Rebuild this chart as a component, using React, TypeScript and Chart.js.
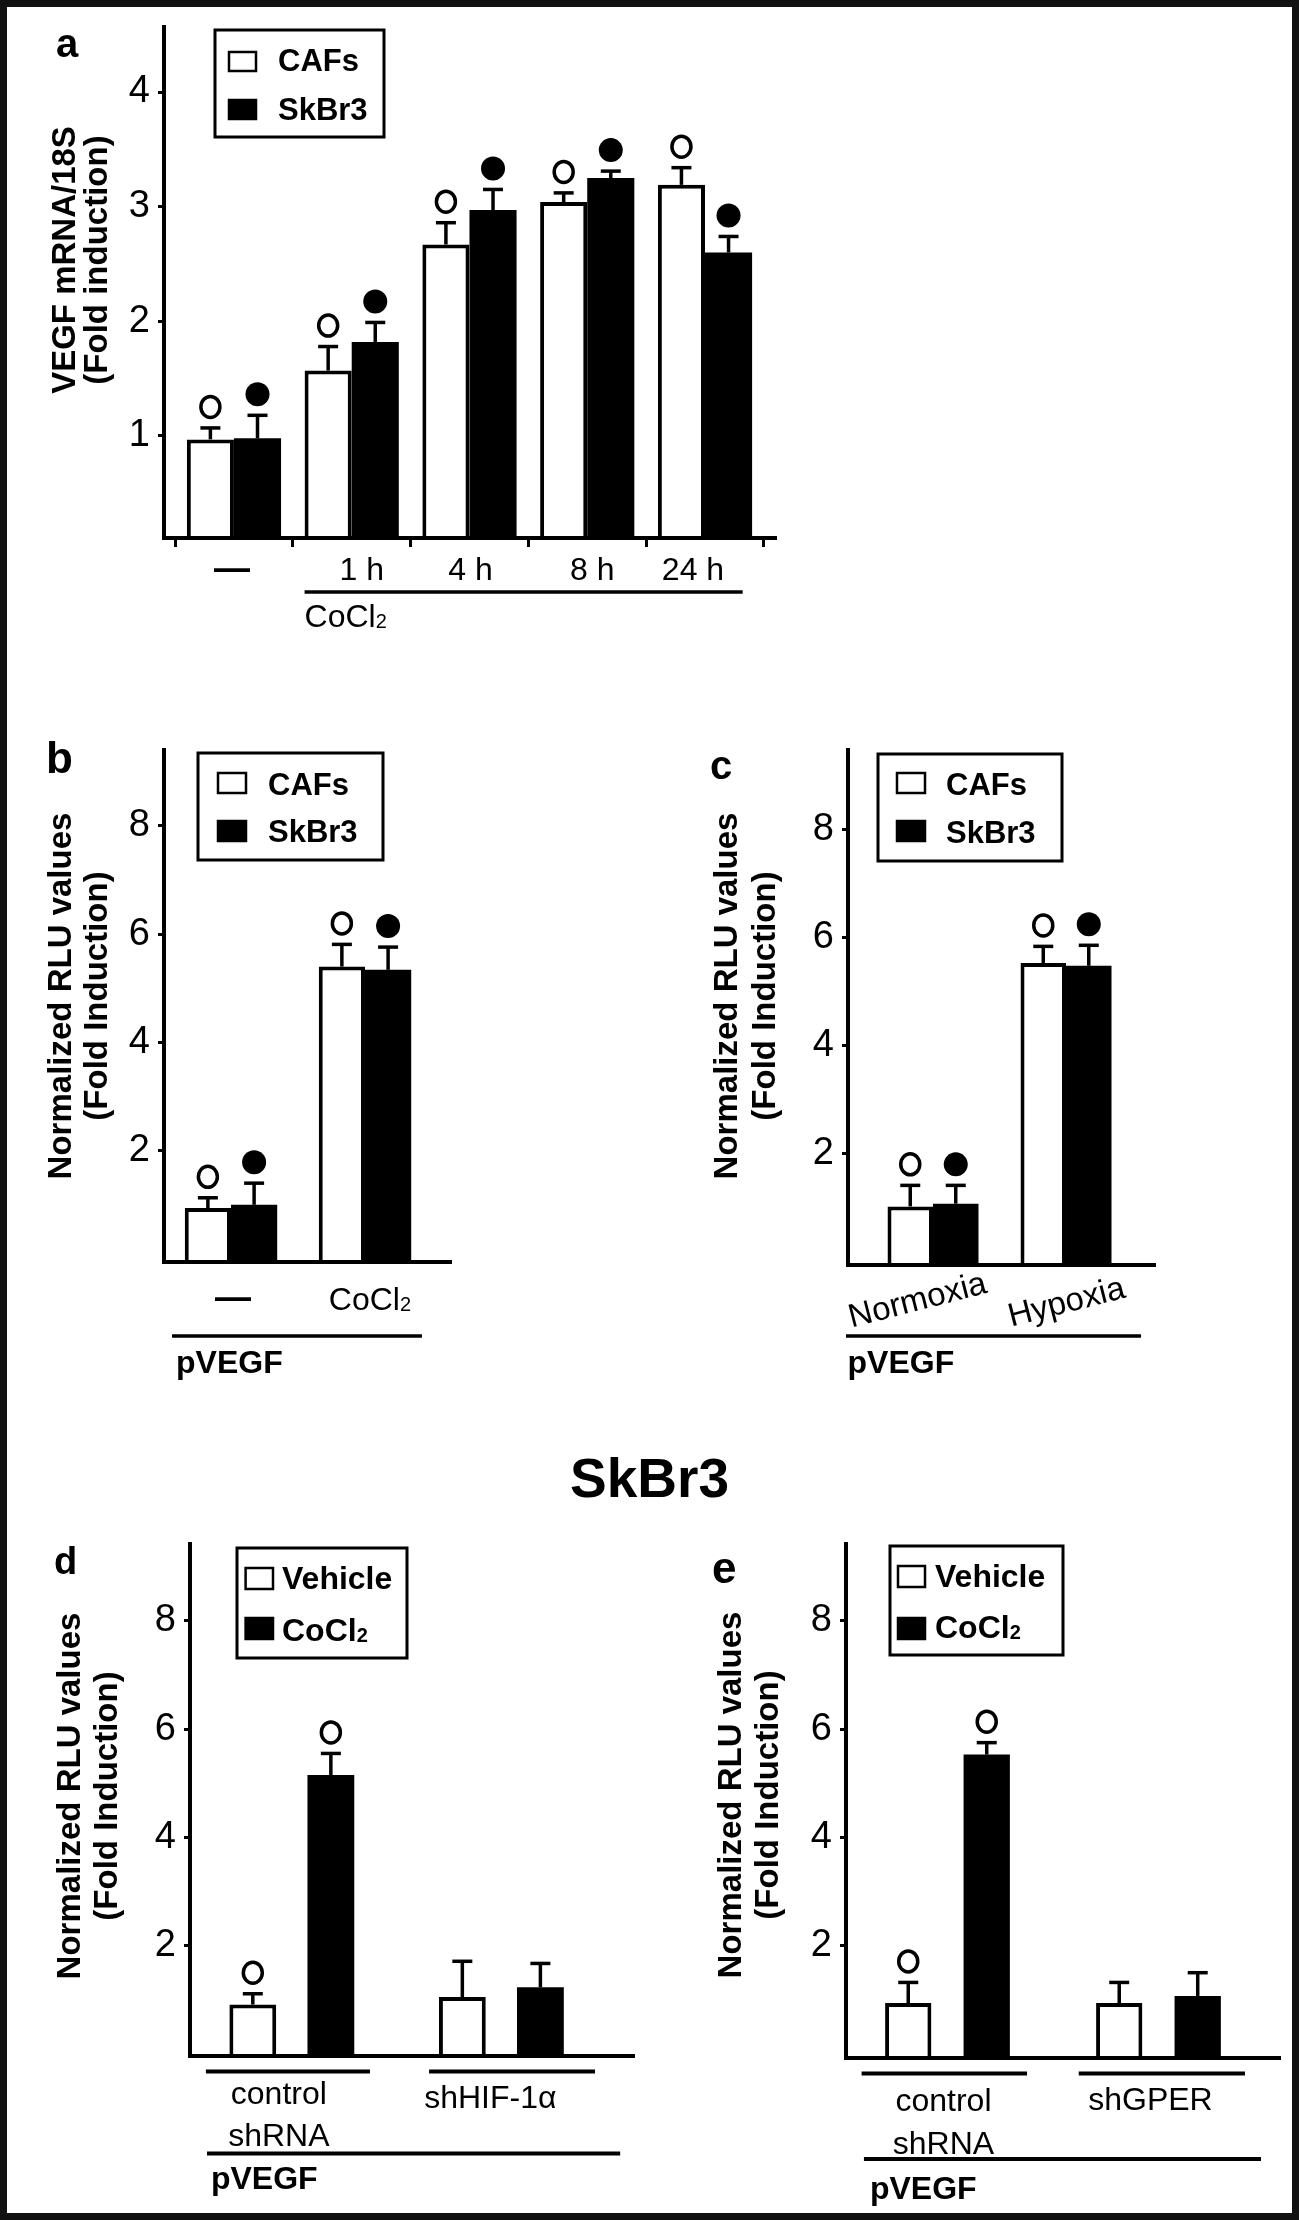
import React, { useEffect, useRef } from 'react';
import { Chart, registerables } from 'chart.js';

Chart.register(...registerables);

const FAMILY = '"Liberation Sans", Arial, Helvetica, sans-serif';
const WHITE = '#ffffff';
const BLACK = '#000000';

// ---------------- data ----------------
// panel a
const aCategories = ['—', '1 h', '4 h', '8 h', '24 h'];
const aGroupLabel = 'CoCl₂';
const cellLines = ['CAFs', 'SkBr3'];
const aCAFs = [0.97, 1.57, 2.67, 3.04, 3.19];
const aCAFsErr = [0.10, 0.21, 0.19, 0.08, 0.15];
const aSkBr3 = [0.98, 1.82, 2.97, 3.25, 2.60];
const aSkBr3Err = [0.20, 0.17, 0.18, 0.06, 0.14];
const aCAFsMarks = ['o', 'o', 'o', 'o', 'o'];
const aSkBr3Marks = ['●', '●', '●', '●', '●'];
const aYTicks = [1, 2, 3, 4];
const aYTitle = ['VEGF mRNA/18S', '(Fold induction)'];

// panel b
const bCategories = ['—', 'CoCl₂'];
const bCAFs = [0.94, 5.40];
const bCAFsErr = [0.19, 0.41];
const bSkBr3 = [1.00, 5.34];
const bSkBr3Err = [0.40, 0.42];
const bCAFsMarks = ['o', 'o'];
const bSkBr3Marks = ['●', '●'];

// panel c
const cCategories = ['Normoxia', 'Hypoxia'];
const cCAFs = [1.02, 5.53];
const cCAFsErr = [0.39, 0.31];
const cSkBr3 = [1.07, 5.48];
const cSkBr3Err = [0.34, 0.38];
const cCAFsMarks = ['o', 'o'];
const cSkBr3Marks = ['●', '●'];

const rluYTicks = [2, 4, 6, 8];
const rluYTitle = ['Normalized RLU values', '(Fold Induction)'];
const plasmidLabel = 'pVEGF';
const lowerTitle = 'SkBr3';
const treatments = ['Vehicle', 'CoCl₂'];

// panel d
const dCategories = [['control', 'shRNA'], ['shHIF-1α']];
const dVehicle = [0.91, 1.05];
const dVehicleErr = [0.20, 0.66];
const dCoCl2 = [5.15, 1.23];
const dCoCl2Err = [0.40, 0.44];
const dVehicleMarks = ['o', ''];
const dCoCl2Marks = ['o', ''];

// panel e
const eCategories = [['control', 'shRNA'], ['shGPER']];
const eVehicle = [0.94, 0.94];
const eVehicleErr = [0.38, 0.38];
const eCoCl2 = [5.53, 1.07];
const eCoCl2Err = [0.22, 0.43];
const eVehicleMarks = ['o', ''];
const eCoCl2Marks = ['o', ''];

// ---------------- helpers ----------------
type TOpt = { size: number; bold?: boolean; align?: 'left' | 'center' | 'right'; rot?: number };

function splitSub(text: string) {
  const out: { t: string; sub: boolean }[] = [];
  let cur = '';
  for (const ch of text) {
    if (ch === '₂') {
      if (cur) out.push({ t: cur, sub: false });
      out.push({ t: '2', sub: true });
      cur = '';
    } else cur += ch;
  }
  if (cur) out.push({ t: cur, sub: false });
  return out;
}

function drawText(ctx: CanvasRenderingContext2D, text: string, x: number, y: number, o: TOpt) {
  const weight = o.bold ? 'bold ' : '';
  const parts = splitSub(text);
  const fontFor = (sub: boolean) => `${weight}${sub ? Math.round(o.size * 0.62) : o.size}px ${FAMILY}`;
  ctx.save();
  ctx.translate(x, y);
  if (o.rot) ctx.rotate(o.rot);
  ctx.textBaseline = 'alphabetic';
  ctx.textAlign = 'left';
  ctx.fillStyle = BLACK;
  let total = 0;
  const widths = parts.map((p) => {
    ctx.font = fontFor(p.sub);
    const w = ctx.measureText(p.t).width;
    total += w;
    return w;
  });
  let cx = o.align === 'center' ? -total / 2 : o.align === 'right' ? -total : 0;
  parts.forEach((p, i) => {
    ctx.font = fontFor(p.sub);
    ctx.fillText(p.t, cx, p.sub ? 1 : 0);
    cx += widths[i];
  });
  ctx.restore();
}

type Series = { label: string; values: number[]; errs: number[]; marks: string[]; fill: string };
type Bracket = { from: number; to: number; y: number; lw: number; label?: string; ly?: number; ldx?: number; size?: number };
type Spec = {
  left: number; top: number; w: number; h: number;
  area: { l: number; t: number; r: number; b: number };
  xMin: number; xMax: number; yMin: number; yMax: number; yTicks: number[];
  cp: number; bp: number; xTickMarks: boolean;
  series: Series[];
  letter: { text: string; x: number; y: number; size: number };
  yTitle: { lines: string[]; xs: number[]; cy: number; size: number };
  legend: { x: number; y: number; w: number; h: number; swX: number; swW: number; swH: number; swY: number[]; textX: number; base: number[]; size: number };
  cats: { labels: string[][]; base: number[][]; dx: number[]; size: number; rot?: number };
  brackets: Bracket[];
};

function overlay(spec: Spec) {
  return {
    id: 'overlay',
    afterDatasetsDraw(chart: any) {
      const ctx: CanvasRenderingContext2D = chart.ctx;
      const ys = chart.scales.y;
      ctx.save();
      spec.series.forEach((s, di) => {
        const meta = chart.getDatasetMeta(di);
        meta.data.forEach((el: any, i: number) => {
          const x = el.x;
          const top = ys.getPixelForValue(s.values[i]);
          const et = ys.getPixelForValue(s.values[i] + s.errs[i]);
          ctx.strokeStyle = BLACK;
          ctx.lineWidth = 3.5;
          ctx.beginPath();
          ctx.moveTo(x, top);
          ctx.lineTo(x, et);
          ctx.stroke();
          ctx.beginPath();
          ctx.moveTo(x - 10, et);
          ctx.lineTo(x + 10, et);
          ctx.stroke();
          const m = s.marks[i];
          if (m) {
            const cy = et - 21;
            ctx.beginPath();
            if (m === '●') {
              ctx.arc(x, cy, 12, 0, Math.PI * 2);
              ctx.fillStyle = BLACK;
              ctx.fill();
            } else {
              ctx.ellipse(x, cy, 9.5, 10.5, 0, 0, Math.PI * 2);
              ctx.lineWidth = 3.5;
              ctx.stroke();
            }
          }
        });
      });
      ctx.restore();
    },
    afterDraw(chart: any) {
      const ctx: CanvasRenderingContext2D = chart.ctx;
      const xs = chart.scales.x;
      ctx.save();
      drawText(ctx, spec.letter.text, spec.letter.x, spec.letter.y, { size: spec.letter.size, bold: true });
      spec.yTitle.lines.forEach((t, i) => {
        drawText(ctx, t, spec.yTitle.xs[i], spec.yTitle.cy, { size: spec.yTitle.size, bold: true, align: 'center', rot: -Math.PI / 2 });
      });
      const L = spec.legend;
      ctx.strokeStyle = BLACK;
      ctx.lineWidth = 3;
      ctx.strokeRect(L.x, L.y, L.w, L.h);
      spec.series.forEach((s, i) => {
        ctx.fillStyle = s.fill;
        ctx.fillRect(L.swX, L.swY[i], L.swW, L.swH);
        ctx.lineWidth = 2.5;
        ctx.strokeStyle = BLACK;
        ctx.strokeRect(L.swX, L.swY[i], L.swW, L.swH);
        drawText(ctx, s.label, L.textX, L.base[i], { size: L.size, bold: true });
      });
      const C = spec.cats;
      C.labels.forEach((lines, i) => {
        const px = xs.getPixelForValue(i) + C.dx[i];
        lines.forEach((t, j) => {
          const isDash = t === '—';
          drawText(ctx, t, px, C.base[i][j], {
            size: isDash ? C.size + 4 : C.size,
            bold: isDash,
            align: 'center',
            rot: C.rot || 0,
          });
        });
      });
      spec.brackets.forEach((b) => {
        const x1 = xs.getPixelForValue(b.from);
        const x2 = xs.getPixelForValue(b.to);
        ctx.strokeStyle = BLACK;
        ctx.lineWidth = b.lw;
        ctx.beginPath();
        ctx.moveTo(x1, b.y);
        ctx.lineTo(x2, b.y);
        ctx.stroke();
        if (b.label) {
          const bold = b.label === plasmidLabel;
          drawText(ctx, b.label, x1 + (b.ldx || 0), b.ly || 0, { size: b.size || 32, bold });
        }
      });
      ctx.restore();
    },
  };
}

function buildConfig(spec: Spec) {
  const { area, w, h } = spec;
  const datasets = spec.series.map((s) => ({
    label: s.label,
    data: s.values.map((v, i) => ({ x: i, y: v })),
    backgroundColor: s.fill,
    borderColor: BLACK,
    borderWidth: s.fill === WHITE ? 4 : 0,
    borderSkipped: 'start',
    base: spec.yMin,
    categoryPercentage: spec.cp,
    barPercentage: spec.bp,
  }));
  const nCat = spec.series[0].values.length;
  const zeroPad = (s: any) => {
    s.paddingTop = 0;
    s.paddingBottom = 0;
    s.paddingLeft = 0;
    s.paddingRight = 0;
  };
  return {
    type: 'bar',
    data: { datasets },
    options: {
      responsive: false,
      animation: false,
      events: [],
      layout: { padding: { left: 0, top: area.t, right: w - area.r, bottom: h - area.b } },
      plugins: { legend: { display: false }, tooltip: { enabled: false }, title: { display: false } },
      scales: {
        x: {
          type: 'linear',
          min: spec.xMin,
          max: spec.xMax,
          offset: false,
          afterBuildTicks: (s: any) => {
            s.ticks = Array.from({ length: nCat }, (_, i) => ({ value: i }));
          },
          afterFit: (s: any) => {
            s.height = 0;
            zeroPad(s);
          },
          ticks: { display: false },
          grid: {
            display: spec.xTickMarks,
            drawOnChartArea: false,
            drawTicks: true,
            tickLength: 9,
            tickWidth: 3,
            tickColor: BLACK,
          },
          border: { display: true, color: BLACK, width: 4, z: 1 },
        },
        y: {
          type: 'linear',
          min: spec.yMin,
          max: spec.yMax,
          afterBuildTicks: (s: any) => {
            s.ticks = spec.yTicks.map((v) => ({ value: v }));
          },
          afterFit: (s: any) => {
            s.width = area.l;
            zeroPad(s);
          },
          ticks: {
            color: BLACK,
            padding: 8,
            font: { family: FAMILY, size: 38 },
            callback: (v: any) => String(v),
          },
          grid: {
            display: true,
            drawOnChartArea: false,
            drawTicks: true,
            tickLength: 6,
            tickWidth: 3,
            tickColor: BLACK,
          },
          border: { display: true, color: BLACK, width: 4, z: 1 },
        },
      },
    },
    plugins: [overlay(spec)],
  };
}

// ---------------- panel layouts ----------------
const panelA: Spec = {
  left: 0, top: 0, w: 820, h: 670,
  area: { l: 164, t: 27, r: 776, b: 538 },
  xMin: -0.594, xMax: 4.603, yMin: 0.11, yMax: 4.567, yTicks: aYTicks,
  cp: 0.8, bp: 1, xTickMarks: true,
  series: [
    { label: cellLines[0], values: aCAFs, errs: aCAFsErr, marks: aCAFsMarks, fill: WHITE },
    { label: cellLines[1], values: aSkBr3, errs: aSkBr3Err, marks: aSkBr3Marks, fill: BLACK },
  ],
  letter: { text: 'a', x: 56, y: 57, size: 40 },
  yTitle: { lines: aYTitle, xs: [75, 107], cy: 260, size: 33 },
  legend: { x: 215, y: 30, w: 169, h: 107, swX: 229, swW: 27, swH: 19, swY: [52, 100], textX: 278, base: [71, 120], size: 31 },
  cats: { labels: aCategories.map((c) => [c]), base: aCategories.map(() => [580]), dx: [-2, 10, 1, 5, -12], size: 32 },
  brackets: [{ from: 0.6, to: 4.32, y: 592, lw: 3.5, label: aGroupLabel, ly: 627, ldx: 0, size: 32 }],
};

const panelB: Spec = {
  left: 0, top: 680, w: 640, h: 720,
  area: { l: 164, t: 70, r: 451, b: 582 },
  xMin: -0.5, xMax: 1.642, yMin: -0.056, yMax: 9.40, yTicks: rluYTicks,
  cp: 0.69, bp: 1, xTickMarks: false,
  series: [
    { label: cellLines[0], values: bCAFs, errs: bCAFsErr, marks: bCAFsMarks, fill: WHITE },
    { label: cellLines[1], values: bSkBr3, errs: bSkBr3Err, marks: bSkBr3Marks, fill: BLACK },
  ],
  letter: { text: 'b', x: 46, y: 93, size: 44 },
  yTitle: { lines: rluYTitle, xs: [70.5, 107], cy: 316, size: 33 },
  legend: { x: 198, y: 73, w: 185, h: 107, swX: 218, swW: 28, swH: 20, swY: [93, 141], textX: 268, base: [114.6, 162], size: 31 },
  cats: { labels: bCategories.map((c) => [c]), base: [[629], [630]], dx: [2, 5], size: 32 },
  brackets: [{ from: -0.44, to: 1.425, y: 656, lw: 3.5, label: plasmidLabel, ly: 692.5, ldx: 4, size: 32 }],
};

const panelC: Spec = {
  left: 650, top: 680, w: 640, h: 720,
  area: { l: 198, t: 70, r: 505, b: 585 },
  xMin: -0.639, xMax: 1.669, yMin: -0.066, yMax: 9.48, yTicks: rluYTicks,
  cp: 0.684, bp: 1, xTickMarks: false,
  series: [
    { label: cellLines[0], values: cCAFs, errs: cCAFsErr, marks: cCAFsMarks, fill: WHITE },
    { label: cellLines[1], values: cSkBr3, errs: cSkBr3Err, marks: cSkBr3Marks, fill: BLACK },
  ],
  letter: { text: 'c', x: 60, y: 99, size: 40 },
  yTitle: { lines: rluYTitle, xs: [87, 125], cy: 316, size: 33 },
  legend: { x: 228, y: 74, w: 184, h: 107, swX: 247, swW: 28, swH: 20, swY: [93, 141], textX: 296, base: [114.6, 163], size: 31 },
  cats: { labels: cCategories.map((c) => [c]), base: [[630], [632]], dx: [-13, 3], size: 33, rot: -14.4 * Math.PI / 180 },
  brackets: [{ from: -0.654, to: 1.564, y: 656, lw: 3.5, label: plasmidLabel, ly: 693, ldx: 1.5, size: 32 }],
};

const panelD: Spec = {
  left: 0, top: 1420, w: 650, h: 795,
  area: { l: 190, t: 124, r: 634, b: 636 },
  xMin: -0.486, xMax: 1.633, yMin: -0.04, yMax: 9.42, yTicks: rluYTicks,
  cp: 0.745, bp: 0.6, xTickMarks: false,
  series: [
    { label: treatments[0], values: dVehicle, errs: dVehicleErr, marks: dVehicleMarks, fill: WHITE },
    { label: treatments[1], values: dCoCl2, errs: dCoCl2Err, marks: dCoCl2Marks, fill: BLACK },
  ],
  letter: { text: 'd', x: 54, y: 154, size: 38 },
  yTitle: { lines: rluYTitle, xs: [80, 117], cy: 376, size: 33 },
  legend: { x: 237, y: 128, w: 170, h: 110, swX: 245.6, swW: 27.4, swH: 21, swY: [148, 198], textX: 282, base: [169, 221], size: 32 },
  cats: { labels: dCategories, base: [[684, 726], [688]], dx: [-13, -11], size: 32 },
  brackets: [
    { from: -0.41, to: 0.373, y: 651.4, lw: 4 },
    { from: 0.655, to: 1.447, y: 651.4, lw: 4 },
    { from: -0.405, to: 1.567, y: 733.6, lw: 4, label: plasmidLabel, ly: 769, ldx: 4, size: 32 },
  ],
};

const panelE: Spec = {
  left: 650, top: 1420, w: 645, h: 795,
  area: { l: 196, t: 124, r: 630, b: 638 },
  xMin: -0.481, xMax: 1.576, yMin: -0.076, yMax: 9.42, yTicks: rluYTicks,
  cp: 0.744, bp: 0.59, xTickMarks: false,
  series: [
    { label: treatments[0], values: eVehicle, errs: eVehicleErr, marks: eVehicleMarks, fill: WHITE },
    { label: treatments[1], values: eCoCl2, errs: eCoCl2Err, marks: eCoCl2Marks, fill: BLACK },
  ],
  letter: { text: 'e', x: 62, y: 163, size: 44 },
  yTitle: { lines: rluYTitle, xs: [91, 128], cy: 375, size: 33 },
  legend: { x: 240, y: 126, w: 173, h: 109, swX: 248, swW: 27, swH: 21, swY: [146, 198], textX: 285, base: [167, 218], size: 32 },
  cats: { labels: eCategories, base: [[691, 734], [690]], dx: [-4, -8], size: 32 },
  brackets: [
    { from: -0.407, to: 0.377, y: 653.6, lw: 4 },
    { from: 0.622, to: 1.41, y: 653.6, lw: 4 },
    { from: -0.396, to: 1.486, y: 739, lw: 4, label: plasmidLabel, ly: 779, ldx: 6, size: 32 },
  ],
};

const panels = [panelA, panelB, panelC, panelD, panelE];

function Panel({ spec }: { spec: Spec }) {
  const ref = useRef<HTMLCanvasElement>(null);
  useEffect(() => {
    const chart = new Chart(ref.current as HTMLCanvasElement, buildConfig(spec) as any);
    return () => chart.destroy();
  }, [spec]);
  return (
    <canvas
      ref={ref}
      width={spec.w}
      height={spec.h}
      style={{ position: 'absolute', left: spec.left, top: spec.top, width: spec.w, height: spec.h }}
    />
  );
}

export default function App() {
  return (
    <div style={{ position: 'absolute', left: 0, top: 0, width: 1299, height: 2220, background: WHITE, overflow: 'hidden' }}>
      {panels.map((p, i) => (
        <Panel key={i} spec={p} />
      ))}
      <div
        style={{
          position: 'absolute',
          left: 0,
          width: 1299,
          top: 1451,
          textAlign: 'center',
          font: `bold 55px ${FAMILY}`,
          lineHeight: '55px',
          color: BLACK,
          whiteSpace: 'nowrap',
        }}
      >
        {lowerTitle}
      </div>
      <div
        style={{
          position: 'absolute',
          left: 0,
          top: 0,
          width: 1299,
          height: 2220,
          boxSizing: 'border-box',
          border: '7px solid #111',
          pointerEvents: 'none',
        }}
      />
    </div>
  );
}
